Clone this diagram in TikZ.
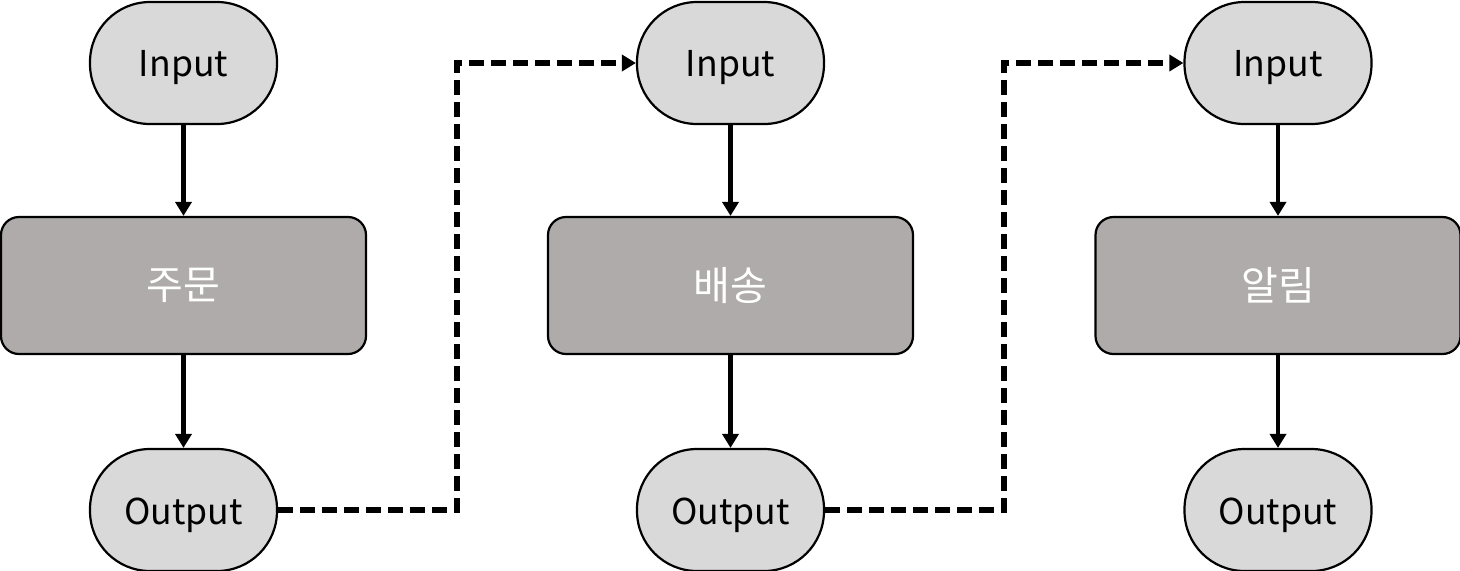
\documentclass[tikz,border=0pt]{standalone}
\usepackage{fontspec}
\setmainfont{Noto Sans CJK KR}
\usetikzlibrary{arrows.meta}
\newcommand{\lowtxt}[1]{\raisebox{-2.5pt}[\height][\depth]{#1}}
\begin{document}
\begin{tikzpicture}[x=0.5pt,y=-0.5pt,
  io/.style={draw=black,line width=1.1pt,fill=iogray,minimum width=93.5pt,minimum height=61pt,rounded corners=30pt,inner sep=0pt,font=\fontsize{17.8}{20}\selectfont},
  proc/.style={draw=black,line width=1.1pt,fill=procgray,minimum width=182.5pt,minimum height=68.5pt,rounded corners=9pt,inner sep=0pt,text=white,font=\fontsize{20}{22}\selectfont},
  flow/.style={line width=2.3pt,-{Triangle[width=8pt,length=7pt]}},
  link/.style={line width=2.6pt,dash pattern=on 7.5pt off 3.5pt,-{Triangle[width=8pt,length=7pt]}}
]
\definecolor{iogray}{HTML}{D9D9D9}
\definecolor{procgray}{HTML}{AFABAB}
\useasboundingbox (0,0) rectangle (1460,570);
\node[io] (in1) at (183.5,63) {\lowtxt{Input}};
\node[proc] (p1) at (183.5,285.5) {주문};
\node[io] (out1) at (183.5,510) {\lowtxt{Output}};
\node[io] (in2) at (730.5,63) {\lowtxt{Input}};
\node[proc] (p2) at (730.5,285.5) {배송};
\node[io] (out2) at (730.5,510) {\lowtxt{Output}};
\node[io] (in3) at (1278,63) {\lowtxt{Input}};
\node[proc] (p3) at (1278,285.5) {알림};
\node[io] (out3) at (1278,510) {\lowtxt{Output}};
\foreach \i in {1,2,3}{
  \draw[flow] (in\i) -- (p\i);
  \draw[flow] (p\i) -- (out\i);
}
\coordinate (k1) at (457,0);
\coordinate (k2) at (1004,0);
\draw[link] (out1.east) -- (out1.east -| k1) -- (in2.west -| k1) -- (in2.west);
\draw[link] (out2.east) -- (out2.east -| k2) -- (in3.west -| k2) -- (in3.west);
\end{tikzpicture}
\end{document}
